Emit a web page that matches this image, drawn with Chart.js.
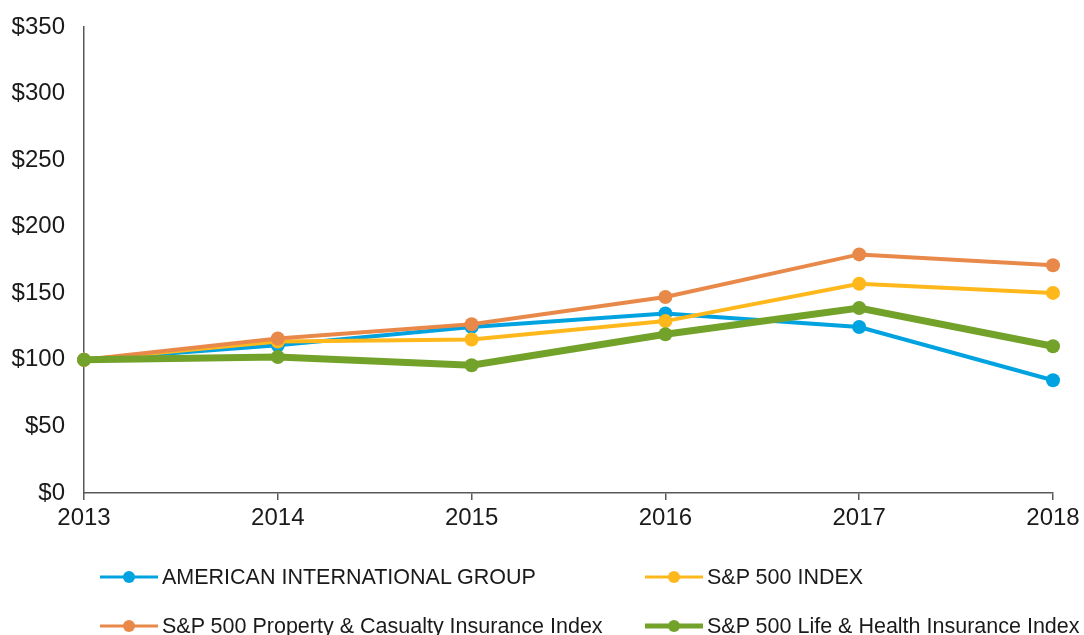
<!DOCTYPE html>
<html>
<head>
<meta charset="utf-8">
<script src="https://cdn.jsdelivr.net/npm/chart.js@4"></script>
<style>
  html, body { margin: 0; padding: 0; background: #ffffff; }
  #wrap { position: relative; width: 1084px; height: 635px; overflow: hidden; }
  #c { position: absolute; left: 0; top: 0; }
  .lg { position: absolute; display: flex; align-items: center; font-family: "Liberation Sans", Arial, sans-serif; font-size: 21.5px; color: #1a1a1a; white-space: nowrap; }
  .lg .sw { position: relative; width: 58px; height: 14px; margin-right: 4px; }
  .lg .sw .ln { position: absolute; left: 0; right: 0; top: 50%; transform: translateY(-50%); }
  .lg .sw .dt { position: absolute; left: 50%; top: 50%; width: 12px; height: 12px; border-radius: 50%; transform: translate(-50%, -50%); }
</style>
</head>
<body>
<div id="wrap">
  <canvas id="c" width="1084" height="635"></canvas>
  <div id="legend"></div>
</div>
<script>
const years = ["2013", "2014", "2015", "2016", "2017", "2018"];
const aig = [100, 111, 124.7, 134.9, 124.7, 84.7];
const sp500 = [100, 113.7, 115.3, 129.1, 157.2, 150.3];
const propCas = [100, 116, 126.7, 147.2, 179.2, 171.1];
const lifeHealth = [100, 102.2, 96, 119.2, 138.9, 110.2];
const seriesNames = [
  "AMERICAN INTERNATIONAL GROUP",
  "S&P 500 INDEX",
  "S&P 500 Property & Casualty Insurance Index",
  "S&P 500 Life & Health Insurance Index"
];
const yTicks = [0, 50, 100, 150, 200, 250, 300, 350];

const colors = ["#00A3E0", "#FFB81C", "#E8894A", "#73A22B"];
const widths = [4, 4, 4, 7];
const legendWidths = [3, 3, 3, 5];
const orders = [3, 2, 1, 0];
const values = [aig, sp500, propCas, lifeHealth];

const datasets = values.map((v, i) => ({
  label: seriesNames[i],
  data: v,
  borderColor: colors[i],
  backgroundColor: colors[i],
  pointBackgroundColor: colors[i],
  pointBorderColor: colors[i],
  borderWidth: widths[i],
  pointRadius: 7,
  pointBorderWidth: 0,
  tension: 0,
  fill: false,
  order: orders[i]
}));

const font = { family: '"Liberation Sans", Arial, sans-serif', size: 24 };
const axisColor = "#595959";

// keep the plot area where the reference puts it
const areaPlugin = {
  id: "areaFix",
  afterLayout(chart) {
    const ca = chart.chartArea;
    const y = chart.scales.y;
    const targetTop = 27;
    if (Math.abs(ca.top - targetTop) > 0.5) {
      const delta = ca.top - targetTop;
      chart.options.layout.padding.top = Math.max(0, chart.options.layout.padding.top - delta);
    }
  }
};

const chart = new Chart(document.getElementById("c"), {
  type: "line",
  data: { labels: years, datasets },
  options: {
    responsive: false,
    animation: false,
    layout: { padding: { left: 0, top: 27, right: 31, bottom: 0 } },
    plugins: { legend: { display: false }, tooltip: { enabled: false } },
    scales: {
      x: {
        type: "category",
        offset: false,
        grid: { display: true, drawOnChartArea: false, drawTicks: true, tickLength: 7, color: axisColor, lineWidth: 1.5 },
        border: { display: true, color: axisColor, width: 1.5 },
        ticks: { color: "#1a1a1a", font, padding: 4, maxRotation: 0, autoSkip: false },
        afterFit: s => { s.height = 142; }
      },
      y: {
        min: 0,
        max: 350,
        afterBuildTicks: s => { s.ticks = yTicks.map(v => ({ value: v })); },
        grid: { display: false, drawTicks: false },
        border: { display: true, color: axisColor, width: 1.5 },
        ticks: { color: "#1a1a1a", font, padding: 19, callback: v => "$" + v },
        afterFit: s => { s.width = 84; s.paddingTop = 0; s.paddingBottom = 0; }
      }
    }
  }
});

// HTML legend built from the chart datasets
const legendPos = [
  { left: 100, top: 577 },
  { left: 645, top: 577 },
  { left: 100, top: 626 },
  { left: 645, top: 626 }
];
const legendEl = document.getElementById("legend");
chart.data.datasets.forEach((ds, i) => {
  const item = document.createElement("div");
  item.className = "lg";
  item.style.left = legendPos[i].left + "px";
  item.style.top = (legendPos[i].top - 13) + "px";
  item.style.height = "26px";
  const sw = document.createElement("span");
  sw.className = "sw";
  const ln = document.createElement("span");
  ln.className = "ln";
  ln.style.height = legendWidths[i] + "px";
  ln.style.background = ds.borderColor;
  const dt = document.createElement("span");
  dt.className = "dt";
  dt.style.background = ds.borderColor;
  sw.appendChild(ln); sw.appendChild(dt);
  const tx = document.createElement("span");
  tx.textContent = ds.label;
  item.appendChild(sw); item.appendChild(tx);
  legendEl.appendChild(item);
});
</script>
</body>
</html>
